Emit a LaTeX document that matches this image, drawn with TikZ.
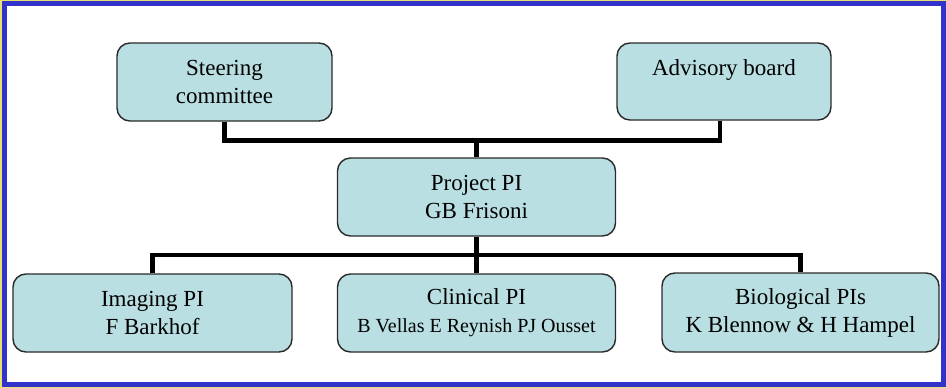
\documentclass[tikz,border=0pt]{standalone}
\usepackage{fontspec}
\setmainfont{Liberation Serif}
\usetikzlibrary{calc}
\definecolor{boxfill}{HTML}{B9DFE2}
\definecolor{boxline}{HTML}{2A2A2A}
\definecolor{frameblue}{HTML}{3333CC}
\definecolor{edgeyellow}{HTML}{E8E070}
\tikzset{
  orgbox/.style={draw=boxline, line width=1.4pt, fill=boxfill, rounded corners=13pt,
    align=center, inner sep=0pt, font=\fontsize{23}{28}\selectfont},
  link/.style={line width=4.5pt, draw=black, line join=miter},
}
\begin{document}
\begin{tikzpicture}[x=1pt, y=-1pt]
\useasboundingbox (0,0) rectangle (946,388);
\fill[white] (0,0) rectangle (946,388);
\draw[edgeyellow, line width=1.5pt] (0.75,0.75) rectangle (945.25,387.25);
\draw[frameblue, line width=5pt] (4.3,3.8) rectangle (943.8,384.3);

\node[orgbox, minimum width=215pt, minimum height=78pt] (steer) at (224.5,82) {Steering\\committee};
\node[orgbox, minimum width=214pt, minimum height=77pt] (adv) at (724,81.5) {Advisory board\\\mbox{}};
\node[orgbox, minimum width=278pt, minimum height=78pt] (proj) at (476.5,197) {Project PI\\GB Frisoni};
\node[orgbox, minimum width=279pt, minimum height=78pt] (img) at (152.5,313) {Imaging PI\\F Barkhof};
\node[orgbox, minimum width=278pt, minimum height=78pt] (clin) at (476.5,313) {Clinical PI\\{\fontsize{20}{24}\selectfont B Vellas E Reynish PJ Ousset}};
\node[orgbox, minimum width=277pt, minimum height=79pt] (bio) at (800.5,312.5) {Biological PIs\\K Blennow \& H Hampel};

\coordinate (bustop) at (476.5,140.5);
\coordinate (busbot) at (476.5,255);
\coordinate (advfoot) at ($(adv.south)+(-4,0)$);

\draw[link] (steer.south) |- (bustop) -| (advfoot);
\draw[link] (bustop) -- (proj.north);
\draw[link] (img.north) |- (busbot) -| (bio.north);
\draw[link] (proj.south) -- (clin.north);
\end{tikzpicture}
\end{document}
